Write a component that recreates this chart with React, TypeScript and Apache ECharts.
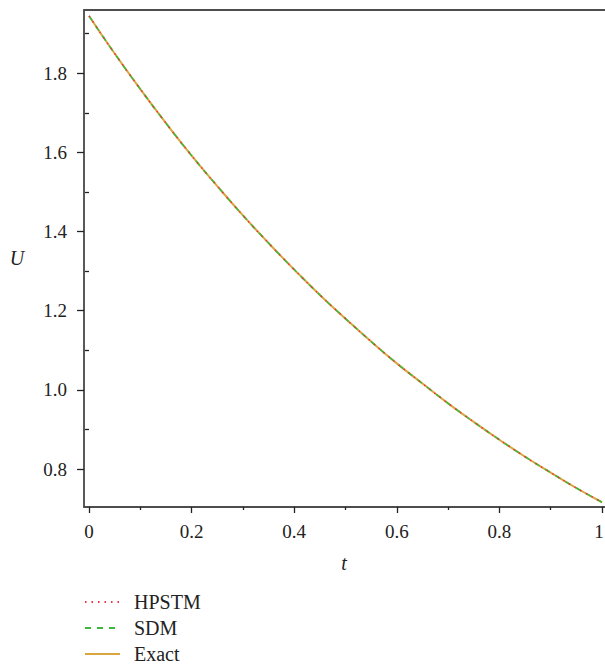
import React, { useEffect, useRef } from "react";
import * as echarts from "echarts";

const tValues = [0, 0.05, 0.1, 0.15, 0.2, 0.25, 0.3, 0.35, 0.4, 0.45, 0.5, 0.55, 0.6, 0.65, 0.7, 0.75, 0.8, 0.85, 0.9, 0.95, 1.0];
const exactU = [1.945, 1.850, 1.760, 1.674, 1.592, 1.515, 1.441, 1.371, 1.304, 1.240, 1.180, 1.122, 1.067, 1.016, 0.966, 0.919, 0.874, 0.831, 0.791, 0.752, 0.716];
const sdmU = [1.945, 1.850, 1.760, 1.674, 1.592, 1.515, 1.441, 1.371, 1.304, 1.240, 1.180, 1.122, 1.067, 1.016, 0.966, 0.919, 0.874, 0.831, 0.791, 0.752, 0.716];
const hpstmU = [1.945, 1.850, 1.760, 1.674, 1.592, 1.515, 1.441, 1.371, 1.304, 1.240, 1.180, 1.122, 1.067, 1.016, 0.966, 0.919, 0.874, 0.831, 0.791, 0.752, 0.716];

const xMajorTicks = [0, 0.2, 0.4, 0.6, 0.8, 1];
const xMinorTicks = [0.1, 0.3, 0.5, 0.7, 0.9];
const yMajorTicks = [0.8, 1.0, 1.2, 1.4, 1.6, 1.8];
const yMinorTicks = [0.9, 1.1, 1.3, 1.5, 1.7, 1.9];
const xTickLabels = ["0", "0.2", "0.4", "0.6", "0.8", "1"];
const yTickLabels = ["0.8", "1.0", "1.2", "1.4", "1.6", "1.8"];

const seriesNames = ["HPSTM", "SDM", "Exact"];

const FONT = "Liberation Serif, DejaVu Serif, serif";
const AXIS_COLOR = "#4d4d4d";
const TICK_COLOR = "#222222";

export default function App() {
  const ref = useRef<HTMLDivElement>(null);
  useEffect(() => {
    if (!ref.current) return;
    const chart = echarts.init(ref.current, undefined, { renderer: "svg" });
    const xMin = -0.0098;
    const xMax = 1.0059;
    const yMin = 0.704;
    const yMax = 1.96;
    const pair = (arr: number[]) => tValues.map((t, i) => [t, arr[i]]);
    const baseX = (extra: any) => ({
      type: "value",
      min: xMin,
      max: xMax,
      position: "bottom",
      splitLine: { show: false },
      axisLine: { show: false },
      axisLabel: { show: false },
      ...extra,
    });
    const baseY = (extra: any) => ({
      type: "value",
      min: yMin,
      max: yMax,
      position: "left",
      splitLine: { show: false },
      axisLine: { show: false },
      axisLabel: { show: false },
      ...extra,
    });
    chart.setOption({
      animation: false,
      backgroundColor: "#ffffff",
      textStyle: { fontFamily: FONT },
      grid: { left: 84, top: 10, width: 521, height: 497, containLabel: false },
      xAxis: [
        baseX({
          axisLine: { show: true, onZero: false, lineStyle: { color: AXIS_COLOR, width: 2 } },
          axisTick: { show: true, customValues: xMajorTicks, length: 6, lineStyle: { color: TICK_COLOR, width: 1.3 } },
        }),
        baseX({
          axisTick: { show: true, customValues: xMinorTicks, length: 3, lineStyle: { color: TICK_COLOR, width: 1.3 } },
        }),
        {
          type: "value",
          min: xMin,
          max: xMax,
          position: "top",
          axisLine: { show: true, onZero: false, lineStyle: { color: AXIS_COLOR, width: 2 } },
          axisTick: { show: false },
          axisLabel: { show: false },
          splitLine: { show: false },
        },
      ],
      yAxis: [
        baseY({
          axisLine: { show: true, onZero: false, lineStyle: { color: TICK_COLOR, width: 1.5 } },
          axisTick: { show: true, customValues: yMajorTicks, length: 7, lineStyle: { color: TICK_COLOR, width: 1.3 } },
        }),
        baseY({
          axisTick: { show: true, customValues: yMinorTicks, length: 4, lineStyle: { color: TICK_COLOR, width: 1.3 } },
        }),
      ],
      legend: {
        orient: "vertical",
        left: 84,
        top: 592,
        height: 100,
        padding: 0,
        itemWidth: 35,
        itemHeight: 14,
        itemGap: 6,
        itemStyle: { opacity: 0 },
        data: seriesNames,
        textStyle: { fontSize: 20, fontFamily: FONT, color: TICK_COLOR, padding: [0, 0, 0, 9] },
      },
      series: [
        {
          name: "Exact",
          type: "line",
          data: pair(exactU),
          smooth: true,
          showSymbol: false,
          symbol: "none",
          z: 2,
          lineStyle: { color: "#d9a640", width: 2, type: "solid" },
          itemStyle: { color: "#d9a640" },
        },
        {
          name: "SDM",
          type: "line",
          data: pair(sdmU),
          smooth: true,
          showSymbol: false,
          symbol: "none",
          z: 3,
          lineStyle: { color: "#3cb93c", width: 1.5, type: [6, 6] },
          itemStyle: { color: "#3cb93c" },
        },
        {
          name: "HPSTM",
          type: "line",
          data: pair(hpstmU),
          smooth: true,
          showSymbol: false,
          symbol: "none",
          z: 4,
          lineStyle: { color: "#ee3344", width: 1.5, type: [1.5, 5] },
          itemStyle: { color: "#ee3344" },
        },
      ],
    });

    // tick labels placed through the axes' own scales
    const gridBottom = chart.convertToPixel({ yAxisIndex: 0 }, yMin) as number;
    const gridLeft = chart.convertToPixel({ xAxisIndex: 0 }, xMin) as number;
    const labelFont = { fontSize: 19, fontFamily: FONT, fill: TICK_COLOR };
    const xLabelEls = xMajorTicks.map((v, i) => ({
      type: "text",
      x: Math.min(chart.convertToPixel({ xAxisIndex: 0 }, v) as number, 599),
      y: gridBottom + 24,
      silent: true,
      style: { text: xTickLabels[i], align: "center", verticalAlign: "middle", ...labelFont },
    }));
    const yLabelEls = yMajorTicks.map((v, i) => ({
      type: "text",
      x: gridLeft - 17,
      y: chart.convertToPixel({ yAxisIndex: 0 }, v) as number,
      silent: true,
      style: { text: yTickLabels[i], align: "right", verticalAlign: "middle", ...labelFont },
    }));
    chart.setOption({
      graphic: [
        ...xLabelEls,
        ...yLabelEls,
        {
          type: "text",
          x: 17,
          y: 258,
          style: { text: "U", align: "center", verticalAlign: "middle", fontSize: 20, fontStyle: "italic", fontFamily: FONT, fill: TICK_COLOR },
        },
        {
          type: "text",
          x: 344,
          y: 563,
          style: { text: "t", align: "center", verticalAlign: "middle", fontSize: 20, fontStyle: "italic", fontFamily: FONT, fill: TICK_COLOR },
        },
      ],
    });
    return () => chart.dispose();
  }, []);
  return <div ref={ref} style={{ width: 605, height: 664, position: "absolute", left: 0, top: 0 }} />;
}
